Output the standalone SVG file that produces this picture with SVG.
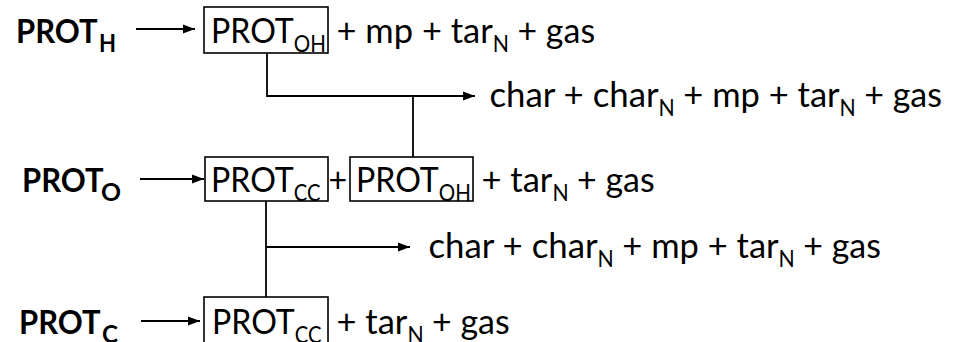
<svg xmlns="http://www.w3.org/2000/svg" width="963" height="342" viewBox="0 0 963 342">
<defs>
<marker id="ah" viewBox="0 0 12 10" refX="12" refY="5" markerWidth="12" markerHeight="10" markerUnits="userSpaceOnUse" orient="auto">
<path d="M0,0.5 L12,5 L0,9.5 z" fill="#000"/>
</marker>
</defs>
<style>
text{font-family:Lato,"Liberation Sans",sans-serif;font-size:34px;fill:#000}
.b{font-weight:bold;font-size:33px}
.bs{font-weight:bold;font-size:24px}
.s{font-size:23px}
.box{fill:none;stroke:#000;stroke-width:1.6}
.ln{fill:none;stroke:#000;stroke-width:1.8}
.ar{fill:none;stroke:#000;stroke-width:1.8;marker-end:url(#ah)}
</style>
<rect width="963" height="342" fill="#fff"/>
<g id="protH">
<text class="b" x="16" y="43" textLength="81.6" lengthAdjust="spacingAndGlyphs">PROT</text>
<text class="bs" x="99" y="52" textLength="17" lengthAdjust="spacingAndGlyphs">H</text>
</g>
<g id="row1">
<rect class="box" x="204" y="7" width="124" height="46"/>
<text x="211" y="43" textLength="82.8" lengthAdjust="spacingAndGlyphs">PROT</text>
<text class="s" x="293.8" y="52" textLength="32.1" lengthAdjust="spacingAndGlyphs">OH</text>
<text x="336.5" y="43" textLength="156.3" lengthAdjust="spacingAndGlyphs">+ mp + tar</text>
<text class="s" x="492.8" y="52" textLength="16.2" lengthAdjust="spacingAndGlyphs">N</text>
<text x="517.5" y="43" textLength="77.6" lengthAdjust="spacingAndGlyphs">+ gas</text>
</g>
<g id="prod1">
<text x="489.5" y="107" textLength="169.1" lengthAdjust="spacingAndGlyphs">char + char</text>
<text class="s" x="658.6" y="116" textLength="16.2" lengthAdjust="spacingAndGlyphs">N</text>
<text x="683.3" y="107" textLength="156.3" lengthAdjust="spacingAndGlyphs">+ mp + tar</text>
<text class="s" x="839.6" y="116" textLength="16.2" lengthAdjust="spacingAndGlyphs">N</text>
<text x="864.3" y="107" textLength="77.6" lengthAdjust="spacingAndGlyphs">+ gas</text>
</g>
<g id="protO">
<text class="b" x="22" y="192" textLength="81.6" lengthAdjust="spacingAndGlyphs">PROT</text>
<text class="bs" x="101" y="201" textLength="20" lengthAdjust="spacingAndGlyphs">O</text>
</g>
<g id="row2">
<rect class="box" x="205" y="157" width="123" height="44"/>
<text x="211" y="192" textLength="82.8" lengthAdjust="spacingAndGlyphs">PROT</text>
<text class="s" x="293.8" y="201" textLength="26.7" lengthAdjust="spacingAndGlyphs">CC</text>
<text x="328.5" y="192" textLength="18.7" lengthAdjust="spacingAndGlyphs">+</text>
<rect class="box" x="350" y="157" width="123" height="44"/>
<text x="356" y="192" textLength="82.8" lengthAdjust="spacingAndGlyphs">PROT</text>
<text class="s" x="438.8" y="201" textLength="32.1" lengthAdjust="spacingAndGlyphs">OH</text>
<text x="481.5" y="192" textLength="70.9" lengthAdjust="spacingAndGlyphs">+ tar</text>
<text class="s" x="552.4" y="201" textLength="16.2" lengthAdjust="spacingAndGlyphs">N</text>
<text x="577.1" y="192" textLength="77.6" lengthAdjust="spacingAndGlyphs">+ gas</text>
</g>
<g id="prod2">
<text x="428.5" y="258" textLength="169.1" lengthAdjust="spacingAndGlyphs">char + char</text>
<text class="s" x="597.6" y="267" textLength="16.2" lengthAdjust="spacingAndGlyphs">N</text>
<text x="622.3" y="258" textLength="156.3" lengthAdjust="spacingAndGlyphs">+ mp + tar</text>
<text class="s" x="778.6" y="267" textLength="16.2" lengthAdjust="spacingAndGlyphs">N</text>
<text x="803.3" y="258" textLength="77.6" lengthAdjust="spacingAndGlyphs">+ gas</text>
</g>
<g id="protC">
<text class="b" x="19" y="334" textLength="81.6" lengthAdjust="spacingAndGlyphs">PROT</text>
<text class="bs" x="102" y="343" textLength="16" lengthAdjust="spacingAndGlyphs">C</text>
</g>
<g id="row3">
<rect class="box" x="204" y="297" width="124" height="50"/>
<text x="212" y="334" textLength="82.8" lengthAdjust="spacingAndGlyphs">PROT</text>
<text class="s" x="294.8" y="343" textLength="26.7" lengthAdjust="spacingAndGlyphs">CC</text>
<text x="336.5" y="334" textLength="70.9" lengthAdjust="spacingAndGlyphs">+ tar</text>
<text class="s" x="407.4" y="343" textLength="16.2" lengthAdjust="spacingAndGlyphs">N</text>
<text x="432.1" y="334" textLength="77.6" lengthAdjust="spacingAndGlyphs">+ gas</text>
</g>
<g id="connectors">
<line class="ar" x1="136" y1="29" x2="195" y2="29"/>
<polyline class="ar" points="267,53 267,96 475,96"/>
<line class="ln" x1="413" y1="96" x2="413" y2="157"/>
<line class="ar" x1="140" y1="179" x2="204" y2="179"/>
<line class="ln" x1="266" y1="201" x2="266" y2="297"/>
<line class="ar" x1="266" y1="247" x2="410" y2="247"/>
<line class="ar" x1="141" y1="321" x2="200" y2="321"/>
</g>
</svg>
